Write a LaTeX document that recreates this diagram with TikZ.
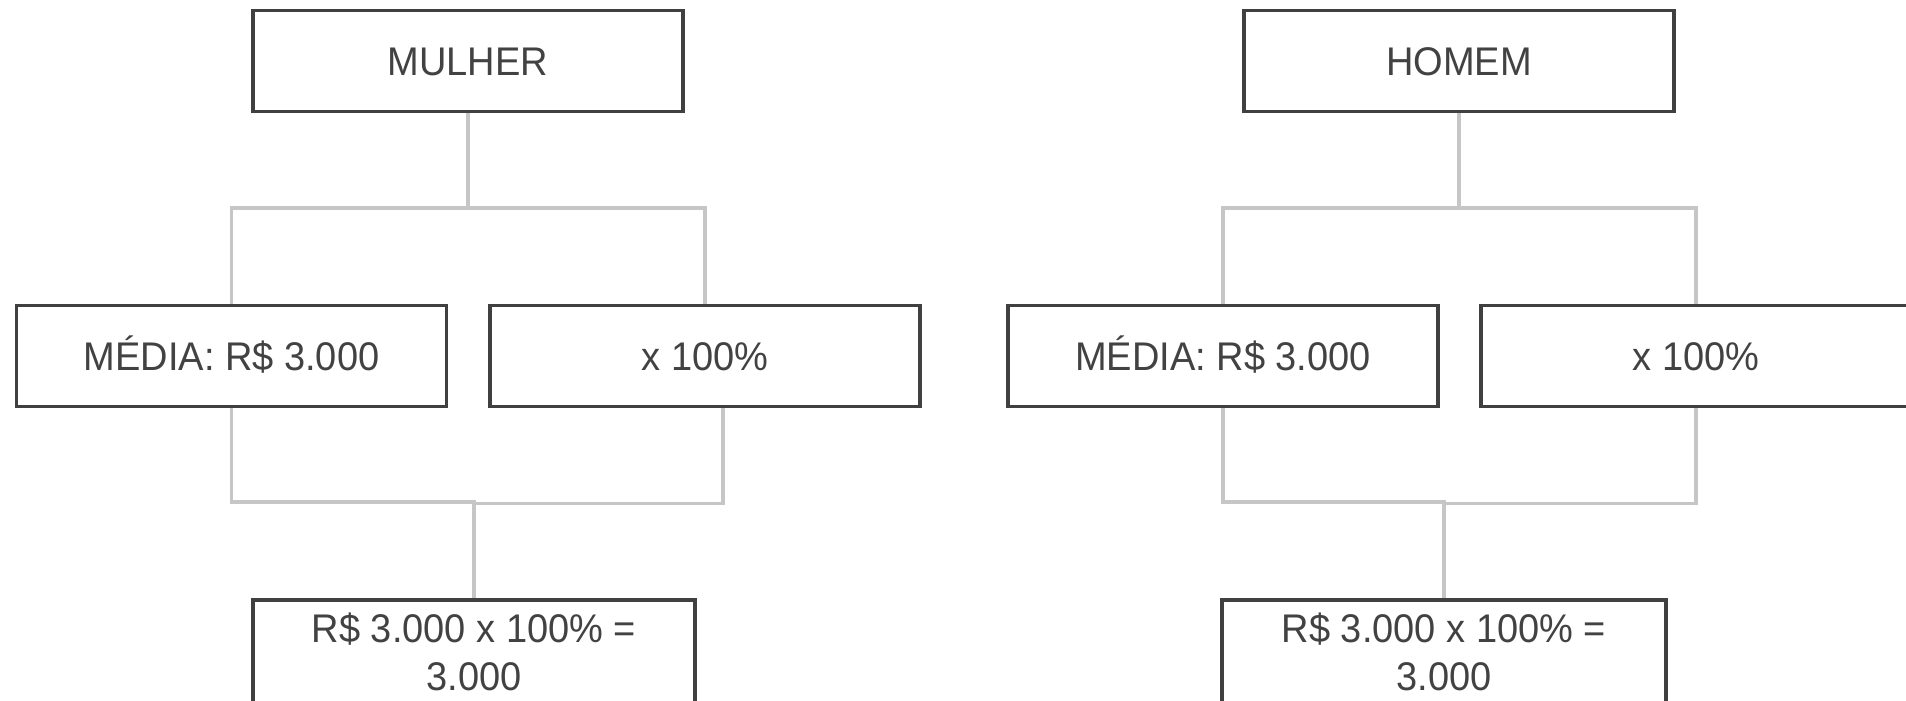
\documentclass[tikz,border=0pt]{standalone}
\usepackage{fontspec}
\setmainfont{Liberation Sans}[FakeStretch=0.95]
\usetikzlibrary{backgrounds}
\definecolor{boxline}{RGB}{64,64,64}
\definecolor{boxtext}{RGB}{66,66,66}
\definecolor{linkgray}{RGB}{198,198,198}
\tikzset{
  boxbase/.style={draw=boxline, line width=1.8pt, fill=white, rectangle,
    minimum width=215pt, minimum height=50.5pt, inner sep=0pt,
    text=boxtext, font=\fontsize{20}{24}\selectfont, align=center},
  card/.style={boxbase, text height=14.3pt, text depth=0pt},
  result/.style={boxbase, minimum width=221pt, minimum height=52pt},
  link/.style={draw=linkgray, line width=1.6pt}
}
\begin{document}
\begin{tikzpicture}[x=0.5pt, y=-0.5pt]
  \useasboundingbox (0,0) rectangle (1906,701);
  \clip (0,0) rectangle (1906,701);

  % left tree
  \node[card] (mulher) at (468,61) {MULHER};
  \node[card] (mediaA) at (231.5,356) {MÉDIA: R\$ 3.000};
  \node[card] (pctA) at (705,356) {x 100\%};
  \node[result] (resA) at (474,652) {R\$ 3.000 x 100\% =\\3.000};

  % right tree
  \node[card] (homem) at (1459,61) {HOMEM};
  \node[card] (mediaB) at (1223,356) {MÉDIA: R\$ 3.000};
  \node[card] (pctB) at (1696,356) {x 100\%};
  \node[result, minimum width=222pt] (resB) at (1444,652) {R\$ 3.000 x 100\% =\\3.000};

  \coordinate (topA) at (468,208);
  \coordinate (botA) at (474,502);
  \coordinate (botAr) at (474,503.5);
  \coordinate (topB) at (1459,208);
  \coordinate (botB) at (1444,502);
  \coordinate (botBr) at (1444,503.5);

  \begin{scope}[on background layer]
    \fill[white] (0,0) rectangle (1906,701);
    \draw[link] (mulher.south) -- (topA);
    \draw[link] (mediaA.north) |- (topA) -| (pctA.north);
    \draw[link] (mediaA.south) |- (botA) -- (resA.north);
    \draw[link] ([xshift=9pt]pctA.south) |- (botAr);

    \draw[link] (homem.south) -- (topB);
    \draw[link] (mediaB.north) |- (topB) -| (pctB.north);
    \draw[link] (mediaB.south) |- (botB) -- (resB.north);
    \draw[link] (pctB.south) |- (botBr);
  \end{scope}
\end{tikzpicture}
\end{document}
